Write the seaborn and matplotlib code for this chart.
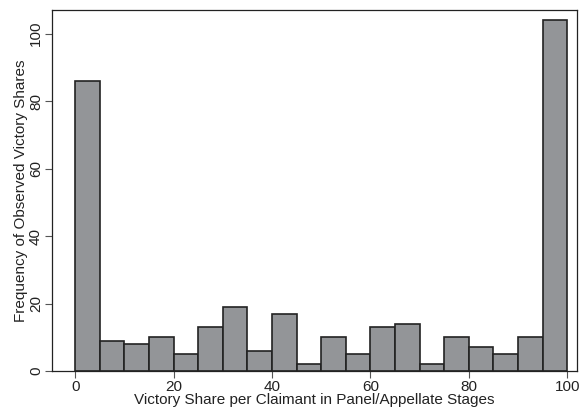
import numpy as np
import pandas as pd
import matplotlib
matplotlib.use("Agg")
import matplotlib.pyplot as plt
import seaborn as sns

bin_starts = [0, 5, 10, 15, 20, 25, 30, 35, 40, 45, 50, 55, 60, 65, 70, 75, 80, 85, 90, 95]
counts = [86, 9, 8, 10, 5, 13, 19, 6, 17, 2, 10, 5, 13, 14, 2, 10, 7, 5, 10, 104]
x_ticks = [0, 20, 40, 60, 80, 100]
y_ticks = [0, 20, 40, 60, 80, 100]

sns.set_theme(style="white")
plt.rcParams['font.family'] = ['Liberation Sans', 'DejaVu Sans']

df = pd.DataFrame({"share": bin_starts, "n": counts})

fig = plt.figure(figsize=(5.82, 4.15), dpi=100)
ax = fig.add_axes([52/582, 44/415, 525/582, 361/415])
sns.histplot(data=df, x="share", weights="n", binwidth=5, binrange=(0, 100),
             color="#939598", edgecolor="#222222", linewidth=1.2, alpha=1, ax=ax)

ax.set_xlim(-4.7, 102)
ax.set_ylim(0, 107)
ax.set_xticks(x_ticks)
ax.set_yticks(y_ticks)
ax.set_xticklabels([str(v) for v in x_ticks], fontsize=11)
ax.set_yticklabels([str(v) for v in y_ticks], fontsize=11, rotation=90, va="center")
ax.tick_params(axis="both", which="major", bottom=True, left=True, direction="out",
               length=5, width=0.8, color="#555555", labelcolor="#222222", pad=1.5)
ax.set_xlabel("Victory Share per Claimant in Panel/Appellate Stages", fontsize=11, labelpad=-1, color="#222222")
ax.set_ylabel("Frequency of Observed Victory Shares", fontsize=11, labelpad=1, color="#222222")
for s in ax.spines.values():
    s.set_color("#222222")
    s.set_linewidth(0.9)
ax.grid(False)

fig.savefig("out.png", dpi=100)
